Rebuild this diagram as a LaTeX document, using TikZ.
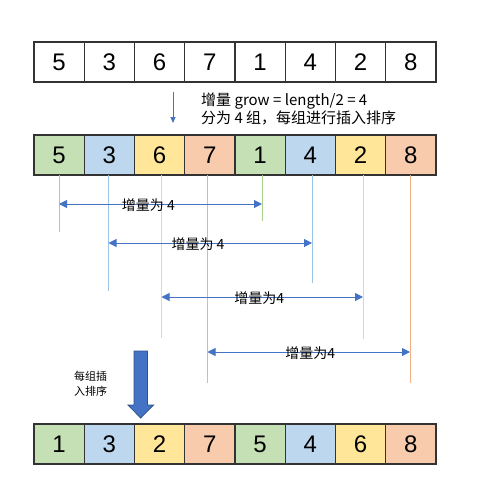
\documentclass[tikz,border=0pt]{standalone}
\usepackage{fontspec}
\setmainfont{Liberation Sans}
\newfontfamily\cjk{Noto Sans CJK SC}
\usetikzlibrary{arrows.meta}

\definecolor{cgreen}{HTML}{C5E0B4}
\definecolor{cblue}{HTML}{BDD7EE}
\definecolor{cyellow}{HTML}{FFE699}
\definecolor{corange}{HTML}{F8CBAD}
\definecolor{lgreen}{HTML}{A9D18E}
\definecolor{lblue}{HTML}{9DC3E6}
\definecolor{lyellow}{HTML}{FFD966}
\definecolor{lorange}{HTML}{F4B183}
\definecolor{gapblue}{HTML}{4472C4}
\definecolor{gapedge}{HTML}{2F528F}

\begin{document}
\begin{tikzpicture}[x=1pt,y=-1pt]
  \tikzstyle{cell}=[draw=black!80,line width=1.2pt,minimum width=50.25pt,minimum height=40pt,inner sep=0pt,font=\fontsize{24}{24}\selectfont]
  \tikzstyle{guide}=[line width=0.6pt]
  \tikzstyle{gap}=[gapblue,line width=1pt,{Triangle[length=8pt,width=8pt]}-{Triangle[length=8pt,width=8pt]}]
  \tikzstyle{gaplabel}=[black,font=\cjk\fontsize{14}{14}\selectfont,inner sep=0pt,yshift=-1pt]

  \useasboundingbox (0,0) rectangle (480,504);

  % original array
  \foreach \v [count=\i] in {5,3,6,7,1,4,2,8}
    \node [cell] (a\i) at (8.875+50.25*\i,62) {\v};

  % four groups
  \foreach \v/\c [count=\i] in {5/cgreen,3/cblue,6/cyellow,7/corange,1/cgreen,4/cblue,2/cyellow,8/corange}
    \node [cell,fill=\c] (b\i) at (8.875+50.25*\i,155) {\v};

  % after insertion sort
  \foreach \v/\c [count=\i] in {1/cgreen,3/cblue,2/cyellow,7/corange,5/cgreen,4/cblue,6/cyellow,8/corange}
    \node [cell,fill=\c] (c\i) at (8.875+50.25*\i,444) {\v};

  \coordinate (s1) at (173,92);
  \coordinate (s2) at (173,123);
  \draw [gapblue,line width=0.8pt,-{Triangle[length=6pt,width=5pt]}] (s1) -- (s2);
  \node [anchor=west,align=left,inner sep=0pt,font=\cjk\fontsize{15}{18}\selectfont] (note) at (201,109)
    {增量 grow = length/2 = 4\\分为 4 组，每组进行插入排序};

  % guide lines
  \foreach \x/\y/\c [count=\i] in {59/232/lgreen,108.5/291/lblue,161.5/338/lyellow,207.5/383/lorange,262/221/lgreen,312/283/lblue,363/339/lyellow,410/383/lorange} {
    \coordinate (t\i) at (\x,175);
    \coordinate (e\i) at (\x,\y);
    \draw [guide,\c] (t\i) -- (e\i);
  }

  \draw [gap] (t1 |- 0,204) -- node [gaplabel,pos=0.44] {增量为 4} (t5 |- 0,204);
  \draw [gap] (t2 |- 0,243) -- node [gaplabel,pos=0.44] {增量为 4} (t6 |- 0,243);
  \draw [gap] (t3 |- 0,297) -- node [gaplabel,pos=0.485] {增量为4} (t7 |- 0,297);
  \draw [gap] (t4 |- 0,352) -- node [gaplabel,pos=0.507] {增量为4} (t8 |- 0,352);

  % sort step
  \draw [fill=gapblue,draw=gapedge,line width=0.8pt] (134,351) -- (147.5,351) -- (147.5,405) -- (153.5,405)
    -- (140.7,418) -- (128,405) -- (134,405) -- cycle;
  \node [anchor=west,align=left,inner sep=0pt,font=\cjk\fontsize{11}{15}\selectfont] (hint) at (74,383.5) {每组插\\入排序};
\end{tikzpicture}
\end{document}
